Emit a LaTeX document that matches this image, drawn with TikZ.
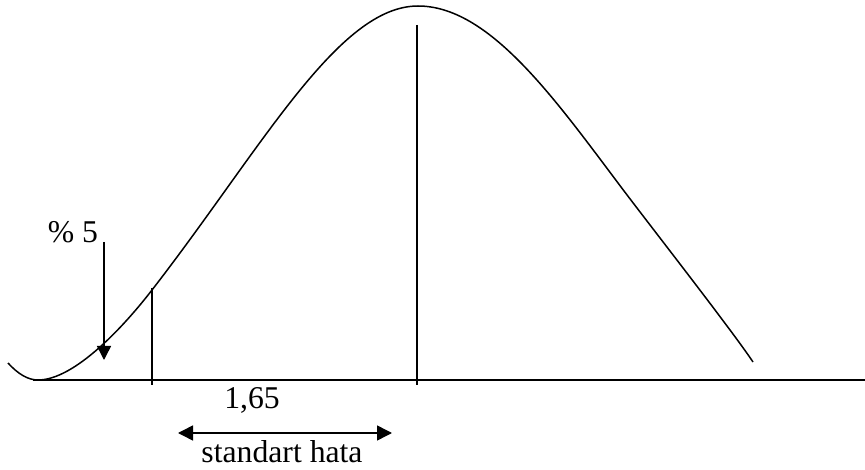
\documentclass[tikz,border=0pt]{standalone}
\usepackage{fontspec}
\setmainfont{Liberation Serif}
\usetikzlibrary{arrows.meta}
\begin{document}
\begin{tikzpicture}[x=1pt, y=-1pt, line width=1.5pt,
    every node/.style={inner sep=0pt, font=\fontsize{31.7}{36}\selectfont},
    tip/.style={-{Triangle[length=14pt, width=14pt]}}]
            \useasboundingbox (0,0) rectangle (865,470);

            % points
            \coordinate (axl) at (33,380);
            \coordinate (axr) at (865,380);
            \coordinate (midtop) at (417,25);
            \coordinate (midbot) at (417,385);
            \coordinate (cuttop) at (152,288);
            \coordinate (cutbot) at (152,385);
            \coordinate (arrtop) at (104,242);
            \coordinate (arrbot) at (104,360);
            \coordinate (errl) at (178,433);
            \coordinate (errr) at (392,433);

            % axis
            \draw[line width=1.8pt] (axl) -- (axr);

            % curve
            \draw (8,363) .. controls (18,374) and (28,380) .. (38,380)
                .. controls (75,380) and (125,325) .. (152,290)
                .. controls (262,148) and (338,6) .. (418,6)
                .. controls (488,6) and (552,95) .. (618,183)
                .. controls (648,223) and (731,329) .. (753,362);

            % mean and cut-off
            \draw (midtop) -- (midbot);
            \draw (cuttop) -- (cutbot);

            % arrows
            \draw[tip] (arrtop) -- (arrbot);
            \draw[{Triangle[length=15pt, width=15pt]}-{Triangle[length=15pt, width=15pt]}] (errl) -- (errr);

            % labels
            \node[anchor=base] (pct) at (73,243) {\% 5};
            \node[anchor=base] (z) at (252,408) {1,65};
            \node[anchor=base] (se) at (282,462) {standart hata};
        \end{tikzpicture}
\end{document}
